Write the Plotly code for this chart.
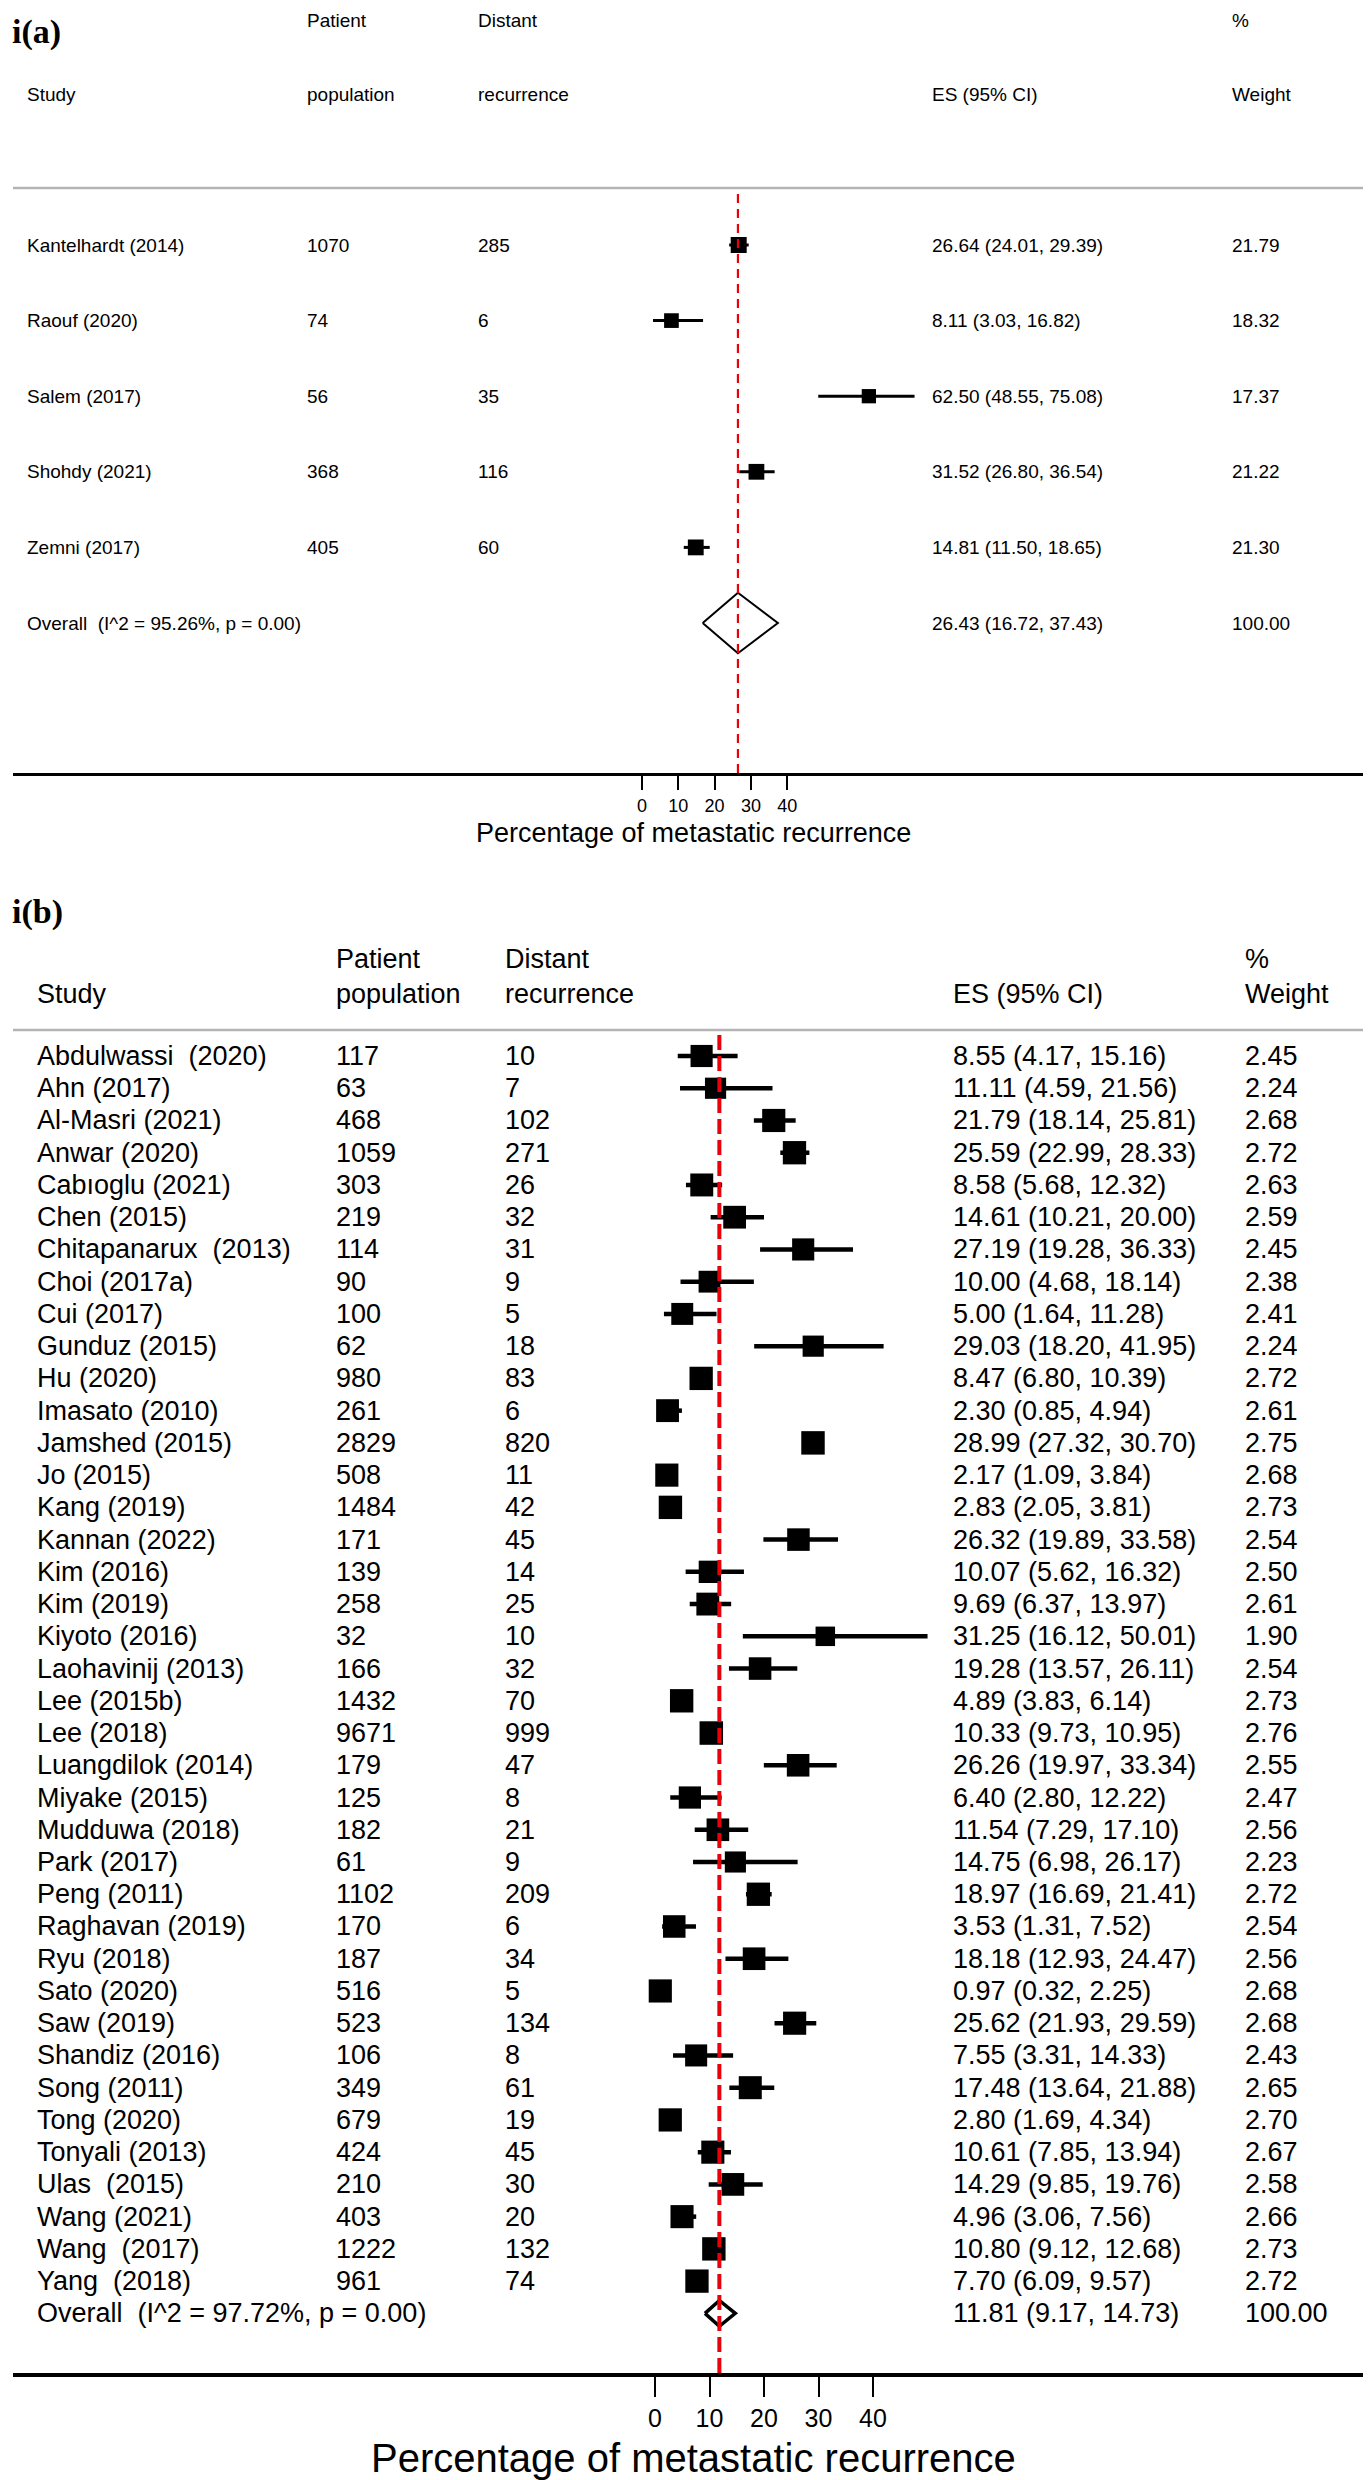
import plotly.graph_objects as go
import numpy as np

W, H = 1371, 2480

# ---------------- Panel (a) data ----------------
studies_a = ["Kantelhardt (2014)", "Raouf (2020)", "Salem (2017)", "Shohdy (2021)", "Zemni (2017)"]
pop_a = [1070, 74, 56, 368, 405]
dist_a = [285, 6, 35, 116, 60]
es_a = [26.64, 8.11, 62.50, 31.52, 14.81]
lo_a = [24.01, 3.03, 48.55, 26.80, 11.50]
hi_a = [29.39, 16.82, 75.08, 36.54, 18.65]
w_a = [21.79, 18.32, 17.37, 21.22, 21.30]
overall_a_label = "Overall\u00a0\u00a0(I^2 = 95.26%, p = 0.00)"
overall_a = [26.43, 16.72, 37.43]
overall_a_w = 100.00

# ---------------- Panel (b) data ----------------
studies_b = ["Abdulwassi\u00a0\u00a0(2020)", "Ahn (2017)", "Al-Masri (2021)", "Anwar (2020)", "Cabıoglu (2021)",
             "Chen (2015)", "Chitapanarux\u00a0\u00a0(2013)", "Choi (2017a)", "Cui (2017)", "Gunduz (2015)",
             "Hu (2020)", "Imasato (2010)", "Jamshed (2015)", "Jo (2015)", "Kang (2019)", "Kannan (2022)",
             "Kim (2016)", "Kim (2019)", "Kiyoto (2016)", "Laohavinij (2013)", "Lee (2015b)", "Lee (2018)",
             "Luangdilok (2014)", "Miyake (2015)", "Mudduwa (2018)", "Park (2017)", "Peng (2011)",
             "Raghavan (2019)", "Ryu (2018)", "Sato (2020)", "Saw (2019)", "Shandiz (2016)", "Song (2011)",
             "Tong (2020)", "Tonyali (2013)", "Ulas\u00a0\u00a0(2015)", "Wang (2021)", "Wang\u00a0\u00a0(2017)",
             "Yang\u00a0\u00a0(2018)"]
pop_b = [117, 63, 468, 1059, 303, 219, 114, 90, 100, 62, 980, 261, 2829, 508, 1484, 171, 139, 258, 32, 166,
         1432, 9671, 179, 125, 182, 61, 1102, 170, 187, 516, 523, 106, 349, 679, 424, 210, 403, 1222, 961]
dist_b = [10, 7, 102, 271, 26, 32, 31, 9, 5, 18, 83, 6, 820, 11, 42, 45, 14, 25, 10, 32,
          70, 999, 47, 8, 21, 9, 209, 6, 34, 5, 134, 8, 61, 19, 45, 30, 20, 132, 74]
es_b = [8.55, 11.11, 21.79, 25.59, 8.58, 14.61, 27.19, 10.00, 5.00, 29.03, 8.47, 2.30, 28.99, 2.17, 2.83,
        26.32, 10.07, 9.69, 31.25, 19.28, 4.89, 10.33, 26.26, 6.40, 11.54, 14.75, 18.97, 3.53, 18.18, 0.97,
        25.62, 7.55, 17.48, 2.80, 10.61, 14.29, 4.96, 10.80, 7.70]
lo_b = [4.17, 4.59, 18.14, 22.99, 5.68, 10.21, 19.28, 4.68, 1.64, 18.20, 6.80, 0.85, 27.32, 1.09, 2.05,
        19.89, 5.62, 6.37, 16.12, 13.57, 3.83, 9.73, 19.97, 2.80, 7.29, 6.98, 16.69, 1.31, 12.93, 0.32,
        21.93, 3.31, 13.64, 1.69, 7.85, 9.85, 3.06, 9.12, 6.09]
hi_b = [15.16, 21.56, 25.81, 28.33, 12.32, 20.00, 36.33, 18.14, 11.28, 41.95, 10.39, 4.94, 30.70, 3.84, 3.81,
        33.58, 16.32, 13.97, 50.01, 26.11, 6.14, 10.95, 33.34, 12.22, 17.10, 26.17, 21.41, 7.52, 24.47, 2.25,
        29.59, 14.33, 21.88, 4.34, 13.94, 19.76, 7.56, 12.68, 9.57]
w_b = [2.45, 2.24, 2.68, 2.72, 2.63, 2.59, 2.45, 2.38, 2.41, 2.24, 2.72, 2.61, 2.75, 2.68, 2.73, 2.54, 2.50,
       2.61, 1.90, 2.54, 2.73, 2.76, 2.55, 2.47, 2.56, 2.23, 2.72, 2.54, 2.56, 2.68, 2.68, 2.43, 2.65, 2.70,
       2.67, 2.58, 2.66, 2.73, 2.72]
overall_b_label = "Overall\u00a0\u00a0(I^2 = 97.72%, p = 0.00)"
overall_b = [11.81, 9.17, 14.73]
overall_b_w = 100.00

tick_vals = [0, 10, 20, 30, 40]
axis_title = "Percentage of metastatic recurrence"

# ---------------- layout geometry (pixels) ----------------
FONT = "Liberation Sans, Arial, sans-serif"
RED = "#e8000b"

def px(x):
    return x / W

def py(y):
    return 1 - y / H

# panel a
A = dict(zero=634, unit=3.63, row0=237, drow=75.6, top=180, bottom=765,
         cols=[17, 297, 468, 922, 1222], fs=19, hdr1=12, hdr2=87, tag_y=24,
         box=16, ciw=3, tick=14, tickw=1.5, tickfs=18, linew=3, title_y=825, title_fs=27,
         dash="9px,6px", redw=2.2, diamw=2)
# panel b
B = dict(zero=647, unit=5.45, row0=1048, drow=32.24, top=1022, bottom=2365,
         cols=[27, 326, 495, 943, 1235], fs=27, hdr1=951, hdr2=986, tag_y=904,
         box=23.5, ciw=4.5, tick=20, tickw=2, tickfs=25, linew=4, title_y=2450, title_fs=40,
         dash="15px,6px", redw=4, diamw=3.5)

fig = go.Figure()
annotations = []
shapes = []

def build_panel(G, xa, ya, studies, pop, dist, es, lo, hi, w, ov_label, ov, ov_w, tag):
    n = len(studies)
    xref = "x" if xa == 1 else f"x{xa}"
    yref = "y" if ya == 1 else f"y{ya}"
    idx = list(range(n))
    # CI lines
    xs, ys = [], []
    for i in idx:
        xs += [lo[i], hi[i], None]
        ys += [i, i, None]
    fig.add_trace(go.Scatter(x=xs, y=ys, mode="lines", line=dict(color="black", width=G["ciw"]),
                             xaxis=xref, yaxis=yref, hoverinfo="skip", showlegend=False))
    # boxes (area proportional to weight)
    wmax = max(w)
    sizes = [float(G["box"] * np.sqrt(wi / wmax)) for wi in w]
    fig.add_trace(go.Scatter(x=es, y=idx, mode="markers",
                             marker=dict(symbol="square", size=sizes, color="#000000", opacity=1,
                                         line=dict(width=0)),
                             xaxis=xref, yaxis=yref, showlegend=False))
    # diamond
    h = 0.4
    fig.add_trace(go.Scatter(x=[ov[1], ov[0], ov[2], ov[0], ov[1]], y=[n, n - h, n, n + h, n],
                             mode="lines", line=dict(color="black", width=G["diamw"]),
                             fill="toself", fillcolor="white",
                             xaxis=xref, yaxis=yref, showlegend=False))
    # red dashed overall line
    shapes.append(dict(type="line", xref=xref, yref=f"{yref} domain", x0=ov[0], x1=ov[0], y0=0, y1=1,
                       line=dict(color=RED, width=G["redw"], dash=G["dash"]), layer="above"))
    # gray header rule
    shapes.append(dict(type="line", xref="paper", yref="paper", x0=px(5), x1=1, y0=py(G["top"]),
                       y1=py(G["top"]), line=dict(color="#b4b4b4", width=2.5)))
    # table text
    c = G["cols"]
    rows = [(studies[i], str(pop[i]), str(dist[i]), f"{es[i]:.2f} ({lo[i]:.2f}, {hi[i]:.2f})", f"{w[i]:.2f}")
            for i in idx]
    rows.append((ov_label, "", "", f"{ov[0]:.2f} ({ov[1]:.2f}, {ov[2]:.2f})", f"{ov_w:.2f}"))
    for i, r in enumerate(rows):
        for j, t in enumerate(r):
            if t == "":
                continue
            annotations.append(dict(x=px(c[j]), y=i, xref="paper", yref=yref, text=t, showarrow=False,
                                    xanchor="left", yanchor="middle",
                                    font=dict(family=FONT, size=G["fs"], color="black")))
    # headers
    hdr = [("", "Study"), ("Patient", "population"), ("Distant", "recurrence"), ("", "ES (95% CI)"),
           ("%", "Weight")]
    for j, (t1, t2) in enumerate(hdr):
        for t, yy in ((t1, G["hdr1"]), (t2, G["hdr2"])):
            if t:
                annotations.append(dict(x=px(c[j]), y=py(yy), xref="paper", yref="paper", text=t,
                                        showarrow=False, xanchor="left", yanchor="middle",
                                        font=dict(family=FONT, size=G["fs"], color="black")))
    # panel tag
    annotations.append(dict(x=px(2), y=py(G["tag_y"]), xref="paper", yref="paper", text=f"<b>{tag}</b>",
                            showarrow=False, xanchor="left", yanchor="middle",
                            font=dict(family="Liberation Serif, Times New Roman, serif", size=34,
                                      color="black")))
    # axis title
    annotations.append(dict(x=px(685), y=py(G["title_y"]),
                            xref="paper", yref="paper", text=axis_title, showarrow=False,
                            xanchor="center", yanchor="middle",
                            font=dict(family=FONT, size=G["title_fs"], color="black")))
    # axes
    xr = [(5 - G["zero"]) / G["unit"], (W - G["zero"]) / G["unit"]]
    yr = [(G["bottom"] - G["row0"]) / G["drow"], (G["top"] - G["row0"]) / G["drow"]]
    xkey = "xaxis" if xa == 1 else f"xaxis{xa}"
    ykey = "yaxis" if ya == 1 else f"yaxis{ya}"
    fig.update_layout(**{
        xkey: dict(domain=[px(5), 1], range=xr, anchor=yref, tickmode="array", tickvals=tick_vals,
                   ticks="outside", ticklen=G["tick"], tickwidth=G["tickw"], tickcolor="black",
                   showline=True, linewidth=G["linew"], linecolor="black", showgrid=False,
                   zeroline=False, tickfont=dict(family=FONT, size=G["tickfs"], color="black")),
        ykey: dict(domain=[py(G["bottom"]), py(G["top"])], range=yr, anchor=xref, visible=False,
                   showgrid=False, zeroline=False),
    })

build_panel(A, 1, 1, studies_a, pop_a, dist_a, es_a, lo_a, hi_a, w_a, overall_a_label, overall_a,
            overall_a_w, "i(a)")
build_panel(B, 2, 2, studies_b, pop_b, dist_b, es_b, lo_b, hi_b, w_b, overall_b_label, overall_b,
            overall_b_w, "i(b)")

fig.update_layout(width=W, height=H, margin=dict(l=0, r=0, t=0, b=0, pad=0),
                  plot_bgcolor="white", paper_bgcolor="white", showlegend=False,
                  annotations=annotations, shapes=shapes)

fig.write_html("out.html")
